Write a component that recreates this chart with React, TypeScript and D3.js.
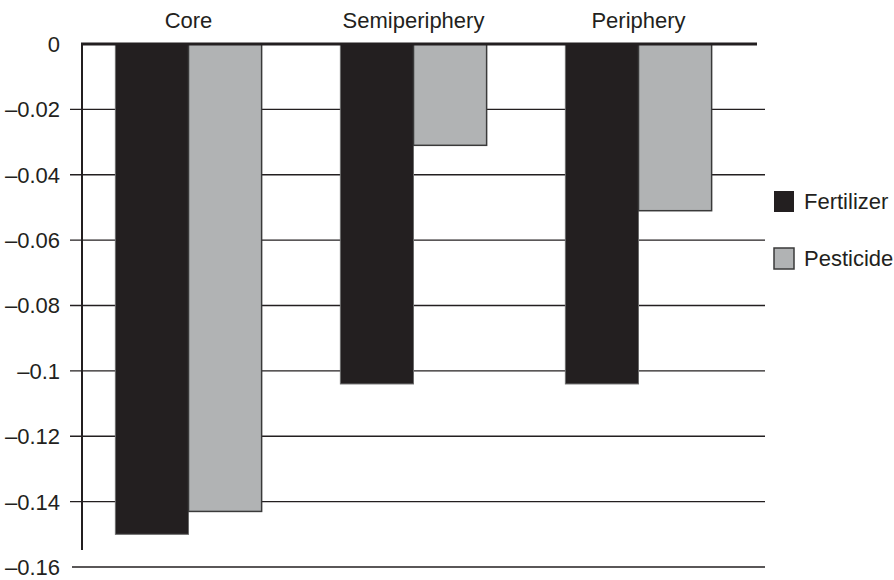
import React from "react";
import * as d3 from "d3";

const categories = ["Core", "Semiperiphery", "Periphery"];
const seriesNames = ["Fertilizer", "Pesticide"];
const fertilizer = [-0.15, -0.104, -0.104];
const pesticide = [-0.143, -0.031, -0.051];
const yTicks = [0, -0.02, -0.04, -0.06, -0.08, -0.1, -0.12, -0.14, -0.16];
const yTickLabels = ["0", "–0.02", "–0.04", "–0.06", "–0.08", "–0.1", "–0.12", "–0.14", "–0.16"];

const W = 894;
const H = 580;
const FONT = "'Liberation Sans', Arial, Helvetica, sans-serif";
const colors = ["#231f20", "#b1b3b4"];
const strokes = ["#6a6a6a", "#3a3a3a"];

export default function App() {
  const y = d3.scaleLinear().domain([0, -0.16]).range([44, 567]);
  const x0 = d3
    .scaleBand<string>()
    .domain(categories)
    .range([76, 751])
    .paddingInner(0.35)
    .paddingOuter(0.175);
  const x1 = d3
    .scaleBand<string>()
    .domain(seriesNames)
    .range([0, x0.bandwidth()]);
  const values = [fertilizer, pesticide];
  const axisX = 82;

  return (
    <svg
      width={W}
      height={H}
      style={{ position: "absolute", left: 0, top: 0, background: "#fff" }}
      fontFamily={FONT}
    >
      {/* gridlines and tick labels */}
      {yTicks.map((t, i) =>
        t === 0 ? null : (
          <line
            key={"g" + i}
            x1={t === -0.16 ? 72 : 70}
            x2={765}
            y1={y(t)}
            y2={y(t)}
            stroke="#231f20"
            strokeWidth={1.4}
          />
        )
      )}
      {yTicks.map((t, i) => (
        <text
          key={"l" + i}
          x={60}
          y={y(t)}
          dy="0.36em"
          textAnchor="end"
          fontSize={22}
          fill="#231f20"
        >
          {yTickLabels[i]}
        </text>
      ))}
      {/* bars */}
      {categories.map((c, ci) =>
        seriesNames.map((s, si) => {
          const v = values[si][ci];
          const bx = (x0(c) as number) + (x1(s) as number);
          return (
            <rect
              key={c + s}
              x={bx}
              y={y(0)}
              width={x1.bandwidth()}
              height={y(v) - y(0)}
              fill={colors[si]}
              stroke={strokes[si]}
              strokeWidth={si === 0 ? 1 : 1.5}
            />
          );
        })
      )}
      {/* vertical axis */}
      <line x1={axisX} x2={axisX} y1={y(0)} y2={550} stroke="#231f20" strokeWidth={2} />
      {/* zero line */}
      <line x1={axisX - 1} x2={757} y1={y(0)} y2={y(0)} stroke="#231f20" strokeWidth={3} />
      {/* category labels */}
      {categories.map((c) => (
        <text
          key={"c" + c}
          x={(x0(c) as number) + x0.bandwidth() / 2}
          y={28}
          textAnchor="middle"
          fontSize={22}
          fill="#231f20"
        >
          {c}
        </text>
      ))}
      {/* legend */}
      {seriesNames.map((s, si) => (
        <g key={"lg" + s} transform={`translate(774, ${191 + si * 57})`}>
          <rect
            x={0}
            y={0}
            width={20}
            height={21}
            fill={colors[si]}
            stroke={si === 0 ? "none" : "#3a3a3a"}
            strokeWidth={1.5}
          />
          <text x={30} y={18} fontSize={22} fill="#231f20">
            {s}
          </text>
        </g>
      ))}
    </svg>
  );
}
